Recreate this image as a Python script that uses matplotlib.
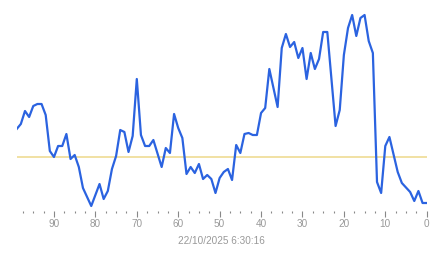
import numpy as np
from matplotlib import pyplot as plt
from matplotlib.ticker import MultipleLocator

plt.rcParams['font.family'] = ['Liberation Sans', 'DejaVu Sans']

# seconds ago (x) and reading (y)
ago = [99, 98, 97, 96, 95, 94, 93, 92, 91, 90, 89, 88, 87, 86, 85, 84, 83,
       81, 79, 78, 77, 76, 75, 74, 73, 72, 71, 70, 69, 68, 67, 66, 64, 63,
       62, 61, 60, 59, 58, 57, 56, 55, 54, 53, 52, 51, 50, 49, 48, 47, 46,
       45, 44, 43, 42, 41, 40, 39, 38, 36, 35, 34, 33, 32, 31, 30, 29, 28,
       27, 26, 25, 24, 22, 21, 20, 19, 18, 17, 16, 15, 14, 13, 12, 11, 10,
       9, 7, 6, 4, 3, 2, 1, 0]
reading = [82, 87, 100, 94, 105, 107, 107, 96, 60, 54, 65, 65, 77, 52, 56,
           44, 23, 5, 27, 12, 20, 42, 55, 81, 79, 59, 75, 132, 76, 65, 65,
           71, 44, 63, 58, 97, 83, 73, 37, 44, 38, 47, 32, 36, 32, 18, 33,
           39, 42, 31, 66, 58, 77, 78, 76, 76, 98, 103, 142, 104, 163, 177,
           164, 169, 153, 163, 132, 158, 142, 152, 179, 179, 85, 101, 156,
           183, 196, 175, 193, 196, 170, 158, 29, 18, 65, 74, 39, 28, 19,
           10, 20, 8, 8]
baseline = 54

fig = plt.figure(figsize=(4.43, 2.58), dpi=100)
ax = fig.add_axes([16.7/443, 47/258, 410/443, 201/258])

ax.axhline(baseline, color='#eed98a', lw=1.1, zorder=1)
ax.plot(ago, reading, color='#2b63e0', lw=1.6, zorder=2)

ax.set_xlim(99, 0)
ax.set_ylim(0, 201)
ax.xaxis.set_major_locator(MultipleLocator(10))
ax.xaxis.set_minor_locator(MultipleLocator(2.5))
ax.tick_params(axis='x', which='major', length=4, width=0.8, color='#888888',
               labelsize=7.2, labelcolor='#999999', pad=2)
ax.tick_params(axis='x', which='minor', length=1.5, width=0.8, color='#888888')
ax.set_yticks([])
for s in ax.spines.values():
    s.set_visible(False)

ax.set_xlabel('22/10/2025 6:30:16', fontsize=7.2, color='#999999', labelpad=5)

fig.savefig('out.png', dpi=100)
